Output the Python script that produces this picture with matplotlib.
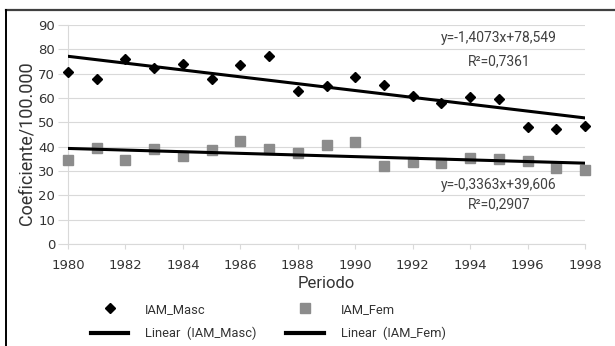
import matplotlib
matplotlib.use("Agg")
import matplotlib.pyplot as plt
from matplotlib.lines import Line2D
import numpy as np

# Annual rates per 100.000, 1980-1998
years = list(range(1980, 1999))
iam_masc = [70.8, 67.9, 76.2, 72.2, 74.1, 67.9, 73.6, 77.3, 63.0, 64.9,
            68.6, 65.5, 60.7, 57.8, 60.3, 59.7, 48.1, 47.4, 48.4]
iam_fem = [34.4, 39.6, 34.7, 38.9, 36.3, 38.5, 42.2, 39.0, 37.5, 40.7,
           41.9, 32.2, 33.6, 33.2, 35.2, 34.9, 34.2, 31.2, 30.4]

# Linear trend coefficients (slope, intercept) over period index 1..19
trend_masc = [-1.4073, 78.549]
trend_fem = [-0.3363, 39.606]
r2_masc = 0.7361
r2_fem = 0.2907

x_ticks = list(range(1980, 1999, 2))
y_ticks = list(range(0, 91, 10))

TXT = "#333333"
GRID = "#d9d9d9"


def comma(v, nd):
    return f"{v:.{nd}f}".replace(".", ",")


def equation(coef):
    slope, icpt = coef
    return f"y={comma(slope, 4)}x+{comma(icpt, 3)}"


fig = plt.figure(figsize=(6.15, 3.46), dpi=100)
ax = fig.add_axes([68 / 615, 1 - 244 / 346, 517 / 615, 219 / 346])

ax.set_xlim(1980, 1998)
ax.set_ylim(0, 90)
ax.set_xticks(x_ticks)
ax.set_yticks(y_ticks)
ax.grid(axis="y", color=GRID, linewidth=0.8)
ax.set_axisbelow(True)
for side in ("top", "right"):
    ax.spines[side].set_visible(False)
for side in ("left", "bottom"):
    ax.spines[side].set_color(GRID)
    ax.spines[side].set_linewidth(0.8)

ax.tick_params(axis="y", length=7.2, width=0.8, color=GRID, pad=2,
               labelsize=9.5, labelcolor=TXT)
ax.tick_params(axis="x", length=3.6, width=0.8, color=GRID, pad=7,
               labelsize=9.5, labelcolor=TXT)
for lab in ax.get_xticklabels() + ax.get_yticklabels():
    lab.set_fontfamily("DejaVu Sans")

idx = np.arange(1, len(years) + 1)
yrs = np.array(years)

sc_m, = ax.plot(yrs, iam_masc, linestyle="none", marker="D", markersize=5.6,
                color="black", clip_on=False, zorder=4, label="IAM_Masc")
sc_f, = ax.plot(yrs, iam_fem, linestyle="none", marker="s", markersize=7.4,
                color="#8c8c8c", clip_on=False, zorder=3, label="IAM_Fem")
ln_m, = ax.plot(yrs, trend_masc[0] * idx + trend_masc[1], color="black",
                linewidth=2.2, zorder=5, label="Linear  (IAM_Masc)")
ln_f, = ax.plot(yrs, trend_fem[0] * idx + trend_fem[1], color="black",
                linewidth=2.2, zorder=5, label="Linear  (IAM_Fem)")

eq_kw = dict(ha="center", va="center", fontsize=10, color="#404040",
             family="Roboto")
ax.text(1995.0, 84.5, equation(trend_masc), **eq_kw)
ax.text(1995.0, 74.9, f"R²={comma(r2_masc, 4)}", **eq_kw)
ax.text(1995.0, 24.2, equation(trend_fem), **eq_kw)
ax.text(1995.0, 16.3, f"R²={comma(r2_fem, 4)}", **eq_kw)

fig.text(326 / 615, 1 - 283 / 346, "Periodo", ha="center", va="center",
         fontsize=12, color=TXT, family="Roboto")
fig.text(27 / 615, 1 - 143 / 346, "Coeficiente/100.000", ha="center",
         va="center", rotation=90, fontsize=13, color=TXT, family="Roboto")

# Legend handles: same styles as the plotted series, thicker trend strokes
leg_handles = [
    Line2D([], [], linestyle="none", marker="D", markersize=5.6, color="black"),
    Line2D([], [], color="black", linewidth=3.0),
    Line2D([], [], linestyle="none", marker="s", markersize=7.4, color="#8c8c8c"),
    Line2D([], [], color="black", linewidth=3.0),
]
leg = fig.legend(leg_handles,
                 [sc_m.get_label(), ln_m.get_label(), sc_f.get_label(), ln_f.get_label()],
                 ncol=2, loc="upper left", bbox_to_anchor=(91 / 615, 1 - 303 / 346),
                 frameon=False, borderpad=0, borderaxespad=0,
                 handlelength=2.9, handletextpad=1.3, columnspacing=2.3,
                 labelspacing=0.85, prop={"family": "Roboto", "size": 9.3})
for t in leg.get_texts():
    t.set_color(TXT)

# Outer frame: top and left edges
fig.add_artist(Line2D([6 / 615, 614 / 615], [1 - 9.5 / 346, 1 - 9.5 / 346],
                      transform=fig.transFigure, color="#404040", linewidth=1.6))
fig.add_artist(Line2D([6 / 615, 6 / 615], [1 - 9.5 / 346, 0],
                      transform=fig.transFigure, color="black", linewidth=1.4))

fig.savefig("out.png", dpi=100, facecolor="white")
